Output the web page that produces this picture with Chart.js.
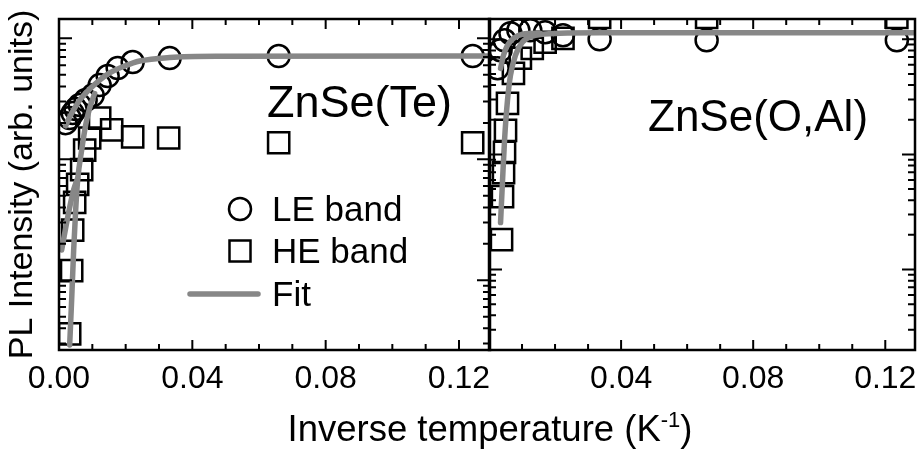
<!DOCTYPE html>
<html>
<head>
<meta charset="utf-8">
<script src="https://cdn.jsdelivr.net/npm/chart.js@4.4.1/dist/chart.umd.min.js"></script>
<style>
  html, body { margin: 0; padding: 0; background: #fff; }
  #wrap { position: relative; width: 921px; height: 453px; overflow: hidden;
          font-family: "Liberation Sans", Arial, sans-serif; }
  #wrap canvas { position: absolute; left: 0; top: 0; }
  #xTitle { position: absolute; left: 490px; top: 408px; transform: translateX(-50%);
            white-space: nowrap; font-size: 36.5px; line-height: 42px; color: #000; }
  #xTitle sup { font-size: 22px; vertical-align: 14px; line-height: 0; }
</style>
</head>
<body>
<div id="wrap">
  <canvas id="left" width="921" height="453"></canvas>
  <canvas id="right" width="960" height="453"></canvas>
  <div id="xTitle">Inverse temperature (K<sup>-1</sup>)</div>
</div>
<script>
// ---- ZnSe(Te) panel ----
const teLeX = [0.0020, 0.0032, 0.0041, 0.0050, 0.0062, 0.0080, 0.0101, 0.0122, 0.0146, 0.0176, 0.0221, 0.0332, 0.0659, 0.1241];
const teLeY = [199, 219, 241, 260, 281, 309, 338, 411, 488, 568, 637, 687, 714, 714];

const teHeX = [0.0032, 0.0038, 0.0041, 0.0047, 0.0056, 0.0068, 0.0077, 0.0092, 0.0122, 0.0158, 0.0221, 0.0329, 0.0659, 0.1241];
const teHeY = [3.6, 12, 26, 44, 62, 82, 119, 150, 219, 175, 153, 150, 137, 137];

const teFitAX = [0.0020, 0.0032, 0.0047, 0.0062, 0.0092, 0.0122, 0.0152, 0.0197, 0.0242, 0.0332, 0.0482, 0.1293];
const teFitAY = [189, 224, 265, 309, 381, 452, 517, 590, 649, 694, 710, 714];
const teFitBX = [0.0008, 0.0020, 0.0032, 0.0044, 0.0056];
const teFitBY = [17.8, 27, 40, 56, 70];
const teFitCX = [0.0032, 0.0038, 0.0044, 0.0050, 0.0056, 0.0068, 0.0080, 0.0092, 0.0107];
const teFitCY = [2.92, 6.9, 17.8, 38, 67.5, 119, 192, 265, 350];

// ---- ZnSe(O,Al) panel ----
const alLeX = [0.0026, 0.0035, 0.0047, 0.0065, 0.0089, 0.0125, 0.0170, 0.0224, 0.0335, 0.0659, 0.1235];
const alLeY = [559, 803, 980, 1128, 1198, 1198, 1150, 1083, 1000, 980, 980];

const alHeX = [0.0038, 0.0041, 0.0044, 0.0047, 0.0050, 0.0056, 0.0074, 0.0095, 0.0131, 0.0170, 0.0224, 0.0335, 0.0659, 0.1235];
const alHeY = [18.2, 43, 69.6, 104, 162, 278, 506, 684, 835, 942, 1020, 1550, 1550, 1550];

const alFitAX = [0.0035, 0.0041, 0.0047, 0.0056, 0.0065, 0.0080, 0.0101, 0.0140, 0.0215, 0.0335, 0.1290];
const alFitAY = [25.6, 59.5, 132, 295, 486, 726, 942, 1083, 1128, 1139, 1139];
const alFitBX = [0.0035, 0.0044, 0.0056, 0.0074, 0.0101, 0.0155];
const alFitBY = [559, 726, 887, 1020, 1105, 1128];

const xTickStep = 0.01;
const xLabelEvery = 4;   // label every 4th step: 0.00, 0.04, 0.08, 0.12

const GREY = '#878787';
const FONT = '"Liberation Sans", Arial, sans-serif';
Chart.defaults.font.family = FONT;
Chart.defaults.color = '#000';

const pts = (xs, ys) => xs.map((x, i) => ({ x, y: ys[i] }));

function fitSet(xs, ys) {
  return { label: 'Fit', data: pts(xs, ys), showLine: true, pointRadius: 0,
           borderColor: GREY, borderWidth: 5.5, borderCapStyle: 'round',
           cubicInterpolationMode: 'monotone', order: 0, clip: 0 };
}
function markSet(label, xs, ys, style) {
  return { label, data: pts(xs, ys), showLine: false, pointStyle: style,
           pointRadius: style === 'rect' ? 15 : 11, pointBorderWidth: 2.5,
           pointBorderColor: '#000', pointBackgroundColor: 'rgba(0,0,0,0)', order: 1, clip: 0 };
}

// frame + inward ticks on all four sides
const frameTicks = {
  id: 'frameTicks',
  afterDatasetsDraw(chart) {
    const { ctx, chartArea: a, scales: { x, y } } = chart;
    ctx.save();
    ctx.strokeStyle = '#000';
    ctx.lineWidth = 2;
    ctx.beginPath();
    x.ticks.forEach(t => {
      const px = x.getPixelForValue(t.value);
      const major = Math.round(t.value / xTickStep) % xLabelEvery === 0;
      const len = major ? 10 : 6;
      ctx.moveTo(px, a.bottom); ctx.lineTo(px, a.bottom - len);
      ctx.moveTo(px, a.top); ctx.lineTo(px, a.top + len);
    });
    const e0 = Math.floor(Math.log10(y.min)), e1 = Math.ceil(Math.log10(y.max));
    for (let e = e0; e <= e1; e++) {
      for (let m = 1; m <= 9; m++) {
        const v = m * Math.pow(10, e);
        if (v < y.min || v > y.max) continue;
        const py = y.getPixelForValue(v);
        const len = m === 1 ? 13 : 7;
        ctx.moveTo(a.left, py); ctx.lineTo(a.left + len, py);
        ctx.moveTo(a.right, py); ctx.lineTo(a.right - len, py);
      }
    }
    ctx.stroke();
    ctx.lineWidth = 2.5;
    ctx.strokeRect(a.left, a.top, a.right - a.left, a.bottom - a.top);
    ctx.restore();
  }
};

// panel label and (optionally) the legend block
const notes = {
  id: 'notes',
  afterDraw(chart, args, opts) {
    const { ctx, chartArea: a } = chart;
    ctx.save();
    ctx.fillStyle = '#000';
    ctx.textBaseline = 'alphabetic';
    ctx.font = `${opts.size}px ${FONT}`;
    ctx.fillText(opts.text, a.left + opts.dx, a.top + opts.dy);
    if (opts.legend) {
      const lx = a.left + 181, ly = a.top + 190;
      ctx.strokeStyle = '#000';
      ctx.lineWidth = 2.5;
      ctx.beginPath(); ctx.arc(lx, ly, 11, 0, Math.PI * 2); ctx.stroke();
      ctx.strokeRect(lx - 10.5, ly + 42 - 10.5, 21, 21);
      ctx.strokeStyle = GREY; ctx.lineWidth = 5.5; ctx.lineCap = 'round';
      ctx.beginPath(); ctx.moveTo(lx - 50, ly + 85); ctx.lineTo(lx + 18, ly + 85); ctx.stroke();
      ctx.font = `35px ${FONT}`;
      ctx.fillText('LE band', lx + 32, ly + 12);
      ctx.fillText('HE band', lx + 32, ly + 54);
      ctx.fillText('Fit', lx + 32, ly + 97);
    }
    ctx.restore();
  }
};

function xScale(xMax, showZero) {
  return {
    type: 'linear', min: 0, max: xMax,
    afterFit: s => { s.height = 103; s.paddingLeft = 0; s.paddingRight = 0; },
    grid: { display: false, drawTicks: false }, border: { display: false },
    ticks: {
      stepSize: xTickStep, includeBounds: false, autoSkip: false, maxRotation: 0, padding: 10,
      font: { size: 32 }, color: '#000',
      callback: v => {
        const k = Math.round(v / xTickStep);
        if (k % xLabelEvery !== 0) return '';
        if (k === 0 && !showZero) return '';
        return v.toFixed(2);
      }
    }
  };
}

const common = {
  responsive: false, animation: false, events: [],
  plugins: { legend: { display: false }, tooltip: { enabled: false } }
};

new Chart(document.getElementById('left'), {
  type: 'scatter',
  data: { datasets: [
    fitSet(teFitAX, teFitAY), fitSet(teFitBX, teFitBY), fitSet(teFitCX, teFitCY),
    markSet('LE band', teLeX, teLeY, 'circle'),
    markSet('HE band', teHeX, teHeY, 'rect')
  ] },
  options: {
    ...common,
    layout: { padding: { top: 19, right: 431, left: 0, bottom: 0 } },
    plugins: { ...common.plugins, notes: { text: 'ZnSe(Te)', size: 45, dx: 208, dy: 98, legend: true } },
    scales: {
      x: xScale(0.1293, true),
      y: {
        type: 'logarithmic', min: 2.65, max: 1445,
        afterFit: s => { s.width = 59; },
        grid: { display: false, drawTicks: false }, border: { display: false },
        ticks: { display: false },
        title: { display: true, text: 'PL Intensity (arb. units)', font: { size: 34 }, color: '#000', padding: { top: 2, bottom: 0 } }
      }
    }
  },
  plugins: [frameTicks, notes]
});

// the right canvas runs past the page edge so the last tick label never squeezes the plot
new Chart(document.getElementById('right'), {
  type: 'scatter',
  data: { datasets: [
    fitSet(alFitAX, alFitAY), fitSet(alFitBX, alFitBY),
    markSet('LE band', alLeX, alLeY, 'circle'),
    markSet('HE band', alHeX, alHeY, 'rect')
  ] },
  options: {
    ...common,
    layout: { padding: { top: 19, right: 45, left: 489, bottom: 0 } },
    plugins: { ...common.plugins, notes: { text: 'ZnSe(O,Al)', size: 44, dx: 159, dy: 112, legend: false } },
    scales: {
      x: xScale(0.129, false),
      y: {
        type: 'logarithmic', min: 2, max: 1500,
        afterFit: s => { s.width = 0; },
        grid: { display: false, drawTicks: false }, border: { display: false },
        ticks: { display: false }
      }
    }
  },
  plugins: [frameTicks, notes]
});
</script>
</body>
</html>
